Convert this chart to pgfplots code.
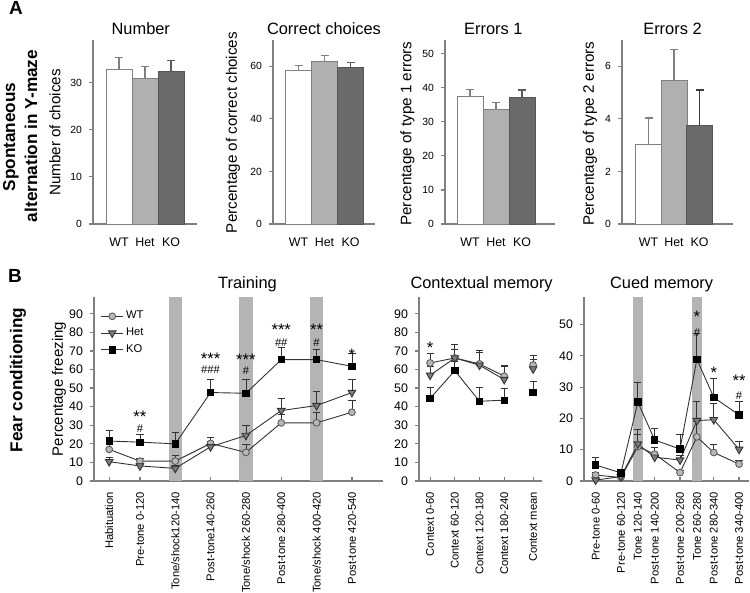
\documentclass[border=0pt]{standalone}
\usepackage{pgfplots}
\pgfplotsset{compat=1.18}
\usepackage{fontspec}
\setmainfont{Liberation Sans}
\definecolor{axc}{HTML}{808080}
\definecolor{wtbar}{HTML}{FFFFFF}
\definecolor{hetbar}{HTML}{B0B0B0}
\definecolor{kobar}{HTML}{6A6A6A}
\definecolor{band}{HTML}{B4B4B4}
\definecolor{wtm}{HTML}{B8B8B8}
\definecolor{hetm}{HTML}{7C7C7C}
\definecolor{lnc}{HTML}{333333}
\newcommand{\fs}[1]{\fontsize{#1}{#1}\selectfont}
\tikzset{
  sig/.style={font=\fs{8.3}, inner sep=0pt, yshift=-1.2pt},
  hsh/.style={font=\fs{5.6}, inner sep=0pt, yshift=-0.4pt},
}
\pgfplotsset{
  barax/.style={scale only axis, height=92pt, axis lines*=left,
    axis line style={draw=axc, line width=0.6pt, -},
    ymin=0, tick align=outside, major tick length=2pt,
    ytick style={draw=axc, line width=0.6pt}, xtick style={draw=none},
    xticklabels={WT,Het,KO},
    yticklabel style={font=\fs{5.2}},
    xticklabel style={font=\fs{6.2}, yshift=-1.5pt},
    /pgf/number format/assume math mode=true,
    clip=false,
  },
  bar/.style={ybar, bar width=13pt, bar shift=0pt, fill=#1},
  eb/.style={forget plot, draw=none, mark=none,
    error bars/.cd, y dir=plus, y explicit,
    error bar style={line width=0.6pt, draw=#1, solid},
    error mark options={rotate=90, mark size=2pt, line width=0.6pt, draw=#1, solid}},
  lineax/.style={scale only axis, height=92pt, axis lines*=left,
    axis line style={draw=axc, line width=0.6pt, -},
    ymin=0, tick align=outside, major tick length=2pt,
    ytick style={draw=axc, line width=0.6pt},
    xtick style={draw=axc, line width=0.6pt, yshift=2pt},
    yticklabel style={font=\fs{6.2}},
    xticklabel style={font=\fs{5.6}, rotate=90, anchor=east},
    /pgf/number format/assume math mode=true,
    clip=false,
    error bars/y dir=plus, error bars/y explicit,
    error bars/error bar style={line width=0.4pt, draw=lnc},
    error bars/error mark options={rotate=90, mark size=1.8pt, line width=0.4pt, draw=lnc},
  },
  wt/.style={draw=lnc, line width=0.45pt, mark=*, mark size=1.7pt, mark options={fill=wtm, draw=lnc!80, solid}},
  het/.style={draw=lnc, line width=0.45pt, mark=triangle*, mark size=2.2pt, mark options={rotate=180, fill=hetm, draw=lnc, solid}},
  ko/.style={draw=lnc, line width=0.45pt, mark=square*, mark size=1.6pt, mark options={fill=black, draw=black, solid}},
  bandst/.style={fill=band, draw=none, forget plot},
}
\begin{document}
\begin{tikzpicture}
\path[use as bounding box] (0,0) rectangle (375pt,-296.5pt);

% ---------- Panel A ----------
\begin{axis}[barax, at={(46.5pt,-112pt)}, anchor=south west, width=52pt,
  xmin=0, xmax=104, ymax=39, ytick={0,10,20,30}, xtick={26,52,78}]
\addplot[eb=axc] coordinates {(26,32.7) +- (0,2.6)};
\addplot[eb=axc] coordinates {(52,30.9) +- (0,2.4)};
\addplot[eb=axc!70!black] coordinates {(78,32.3) +- (0,2.3)};
\addplot[bar=wtbar, draw=axc] coordinates {(26,32.7)};
\addplot[bar=hetbar, draw=axc] coordinates {(52,30.9)};
\addplot[bar=kobar, draw=kobar!80!black] coordinates {(78,32.3)};
\end{axis}

\begin{axis}[barax, at={(136.5pt,-112pt)}, anchor=south west, width=51pt,
  xmin=0, xmax=102, ymax=70, ytick={0,20,40,60}, xtick={25.5,51.5,77.5}]
\addplot[eb=axc] coordinates {(25.5,58.4) +- (0,1.8)};
\addplot[eb=axc] coordinates {(51.5,61.7) +- (0,2.3)};
\addplot[eb=axc!70!black] coordinates {(77.5,59.5) +- (0,1.9)};
\addplot[bar=wtbar, draw=axc] coordinates {(25.5,58.4)};
\addplot[bar=hetbar, draw=axc] coordinates {(51.5,61.7)};
\addplot[bar=kobar, draw=kobar!80!black] coordinates {(77.5,59.5)};
\end{axis}

\begin{axis}[barax, at={(222.5pt,-112pt)}, anchor=south west, width=55pt,
  xmin=0, xmax=110, ymax=54, ytick={0,10,20,30,40,50}, xtick={25,51,77}]
\addplot[eb=axc] coordinates {(25,37.5) +- (0,1.9)};
\addplot[eb=axc] coordinates {(51,33.7) +- (0,2.0)};
\addplot[eb=axc!70!black] coordinates {(77,37.2) +- (0,2.1)};
\addplot[bar=wtbar, draw=axc] coordinates {(25,37.5)};
\addplot[bar=hetbar, draw=axc] coordinates {(51,33.7)};
\addplot[bar=kobar, draw=kobar!80!black] coordinates {(77,37.2)};
\end{axis}

\begin{axis}[barax, at={(311pt,-112pt)}, anchor=south west, width=55.5pt,
  xmin=0, xmax=111, ymax=7.0, ytick={0,2,4,6}, xtick={26.5,52,77.5}]
\addplot[eb=axc] coordinates {(26.5,3.03) +- (0,1.0)};
\addplot[eb=axc] coordinates {(52,5.48) +- (0,1.15)};
\addplot[eb=axc!45!black] coordinates {(77.5,3.75) +- (0,1.35)};
\addplot[bar=wtbar, draw=axc] coordinates {(26.5,3.03)};
\addplot[bar=hetbar, draw=axc] coordinates {(52,5.48)};
\addplot[bar=kobar, draw=kobar!80!black] coordinates {(77.5,3.75)};
\end{axis}

% ---------- Panel B: Training ----------
\begin{axis}[lineax, at={(47pt,-240.5pt)}, anchor=south west, width=144.5pt,
  xmin=-0.30, xmax=7.88, ymax=99, ytick={0,10,...,90},
  xtick={0.13,1,2,3,4,5,6,7},
  xticklabels={Habituation,Pre-tone 0-120,Tone/shock120-140,Post-tone140-260,Tone/shock 260-280,Post-tone 280-400,Tone/shock 400-420,Post-tone 420-540},
  legend style={at={(axis cs:-0.12,93)}, anchor=north west, draw=none, fill=none,
    font=\fs{5.6}, inner sep=0pt, row sep=0.6pt, nodes={inner sep=1.2pt}},
  legend cell align=left,
  legend image code/.code={\draw[mark repeat=2,mark phase=2,#1] plot coordinates {(0pt,0pt) (5.5pt,0pt) (11pt,0pt)};}]
\addplot[bandst] coordinates {(1.81,0) (1.81,99) (2.19,99) (2.19,0)} -- cycle;
\addplot[bandst] coordinates {(3.81,0) (3.81,99) (4.19,99) (4.19,0)} -- cycle;
\addplot[bandst] coordinates {(5.81,0) (5.81,99) (6.19,99) (6.19,0)} -- cycle;
\addplot[wt] coordinates {(0.13,17.0) +- (0,3.0) (1,10.7) +- (0,1.2) (2,10.7) +- (0,2.9) (3,20.2) +- (0,3.2) (4,15.4) +- (0,4.3) (5,31.3) +- (0,4.7) (6,31.3) +- (0,5.6) (7,37.0) +- (0,6.3)};
\addlegendentry{WT}
\addplot[het] coordinates {(0.13,10.4) +- (0,2.3) (1,8.1) +- (0,1.4) (2,6.8) +- (0,1.8) (3,18.4) +- (0,2.7) (4,24.5) +- (0,5.2) (5,37.9) +- (0,6.5) (6,40.6) +- (0,7.7) (7,47.6) +- (0,7.3)};
\addlegendentry{Het}
\addplot[ko] coordinates {(0.13,21.5) +- (0,5.7) (1,20.9) +- (0,4.0) (2,20.0) +- (0,6.1) (3,47.6) +- (0,7.0) (4,47.2) +- (0,7.6) (5,65.3) +- (0,6.8) (6,65.3) +- (0,5.6) (7,61.7) +- (0,6.8)};
\addlegendentry{KO}
\node[sig] at (axis cs:1,35.8) {**};
\node[hsh] at (axis cs:1,28.7) {\#};
\node[sig] at (axis cs:3,67.1) {***};
\node[hsh] at (axis cs:3,60.2) {\#\#\#};
\node[sig] at (axis cs:4,66.6) {***};
\node[hsh] at (axis cs:4,59.7) {\#};
\node[sig] at (axis cs:5,82.4) {***};
\node[hsh] at (axis cs:5,74.8) {\#\#};
\node[sig] at (axis cs:6,82.9) {**};
\node[hsh] at (axis cs:6,74.8) {\#};
\node[sig] at (axis cs:7,69.4) {*};
\end{axis}

% ---------- Panel B: Contextual memory ----------
\begin{axis}[lineax, at={(209.5pt,-240.5pt)}, anchor=south west, width=61.5pt,
  xmin=-0.45, xmax=4.53, ymax=99, ytick={0,10,...,90},
  xtick={0,1,2,3,4.17},
  xticklabels={Context 0-60,Context 60-120,Context 120-180,Context 180-240,Context mean}]
\addplot[wt] coordinates {(0,63.5) +- (0,5.0) (1,66.2) +- (0,7.2) (2,63.0) +- (0,7.3) (3,56.4) +- (0,6.0)};
\addplot[het] coordinates {(0,56.9) +- (0,4.5) (1,66.2) +- (0,4.8) (2,62.3) +- (0,6.9) (3,54.6) +- (0,7.1)};
\addplot[ko] coordinates {(0,44.4) +- (0,6.1) (1,59.4) +- (0,5.0) (2,42.9) +- (0,7.7) (3,43.5) +- (0,6.2)};
\addplot[wt, only marks] coordinates {(4.17,62.4) +- (0,5.2)};
\addplot[het, only marks] coordinates {(4.17,60.3) +- (0,5.2)};
\addplot[ko, only marks] coordinates {(4.17,47.6) +- (0,5.9)};
\node[sig] at (axis cs:0,73) {*};
\end{axis}

% ---------- Panel B: Cued memory ----------
\begin{axis}[lineax, at={(292pt,-240.5pt)}, anchor=south west, width=82.5pt,
  xmin=2.4, xmax=393.5, ymax=58.8, ytick={0,10,...,50},
  xtick={30,90,130,170,230,270,310,370},
  xticklabels={Pre-tone 0-60,Pre-tone 60-120,Tone 120-140,Post-tone 140-200,Post-tone 200-260,Tone 260-280,Post-tone 280-340,Post-tone 340-400}]
\addplot[bandst] coordinates {(119.5,0) (119.5,58.8) (142,58.8) (142,0)} -- cycle;
\addplot[bandst] coordinates {(259.5,0) (259.5,58.8) (282,58.8) (282,0)} -- cycle;
\addplot[wt] coordinates {(30,1.9) +- (0,0.8) (90,1.1) +- (0,0.4) (130,11.0) +- (0,4.0) (170,8.6) +- (0,2.1) (230,2.7) +- (0,0.6) (270,14.1) +- (0,5.0) (310,9.1) +- (0,2.7) (370,5.4) +- (0,1.1)};
\addplot[het] coordinates {(30,0.3) +- (0,1.1) (90,1.4) +- (0,0.5) (130,11.8) +- (0,4.8) (170,7.6) +- (0,1.4) (230,6.7) +- (0,1.4) (270,19.3) +- (0,6.0) (310,19.6) +- (0,5.1) (370,10.1) +- (0,2.7)};
\addplot[ko] coordinates {(30,5.1) +- (0,2.5) (90,2.6) +- (0,0.4) (130,25.2) +- (0,6.3) (170,13.1) +- (0,3.7) (230,10.2) +- (0,4.7) (270,38.9) +- (0,8.2) (310,26.7) +- (0,6.1) (370,21.1) +- (0,4.4)};
\node[sig] at (axis cs:270,53.1) {*};
\node[hsh] at (axis cs:270,47.7) {\#};
\node[sig] at (axis cs:310,35.4) {*};
\node[sig] at (axis cs:370,32.9) {**};
\node[hsh] at (axis cs:370,27.4) {\#};
\end{axis}

% ---------- Texts ----------
\node[font=\bfseries\fs{9.5}, anchor=center] at (8pt,-4.2pt) {A};
\node[font=\bfseries\fs{9.5}, anchor=center] at (7.5pt,-138pt) {B};
\node[font=\bfseries\fs{8.6}, rotate=90] at (5.5pt,-68.5pt) {Spontaneous};
\node[font=\bfseries\fs{8.6}, rotate=90] at (15.5pt,-68pt) {alternation in Y-maze};
\node[font=\bfseries\fs{8.6}, rotate=90] at (9pt,-190pt) {Fear conditioning};

\node[font=\fs{7.6}, rotate=90] at (27.5pt,-66.25pt) {Number of choices};
\node[font=\fs{7.6}, rotate=90] at (116.5pt,-66.25pt) {Percentage of correct choices};
\node[font=\fs{7.6}, rotate=90] at (203.7pt,-66.75pt) {Percentage of type 1 errors};
\node[font=\fs{7.6}, rotate=90] at (295pt,-66.75pt) {Percentage of type 2 errors};
\node[font=\fs{7.5}, rotate=90] at (29.5pt,-194.5pt) {Percentage freezing};

\node[font=\fs{8.2}, anchor=base] at (70.4pt,-17.2pt) {Number};
\node[font=\fs{8.2}, anchor=base] at (162pt,-17.2pt) {Correct choices};
\node[font=\fs{8.2}, anchor=base] at (246.7pt,-17.2pt) {Errors 1};
\node[font=\fs{8.2}, anchor=base] at (336.25pt,-17.2pt) {Errors 2};

\node[font=\fs{8.2}, anchor=base] at (123.75pt,-144.5pt) {Training};
\node[font=\fs{8.2}, anchor=base] at (240.8pt,-144.5pt) {Contextual memory};
\node[font=\fs{8.2}, anchor=base] at (330.8pt,-144.5pt) {Cued memory};
\end{tikzpicture}
\end{document}
